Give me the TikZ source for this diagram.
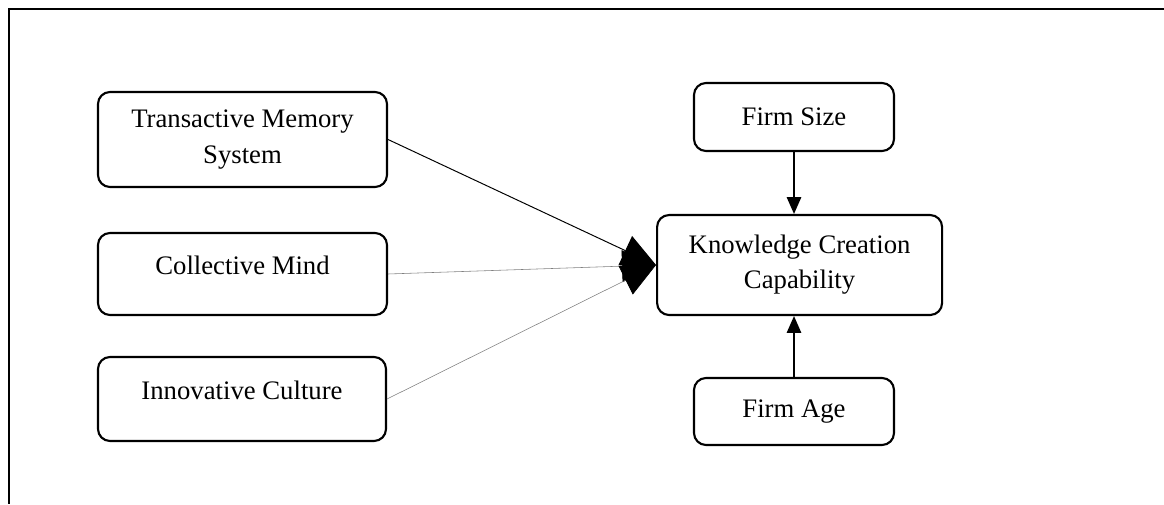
\documentclass[tikz,border=0pt]{standalone}
\usepackage{fontspec}
\setmainfont{Liberation Serif}
\usetikzlibrary{arrows.meta}
\tikzset{box/.style={rectangle,draw,rounded corners=0.3cm,line width=1.5pt,align=center,inner sep=2pt}}
\tikzset{uptext/.style={text depth=0.45cm}}
\tikzset{bigtip/.style={-{Triangle[length=0.85cm,width=0.8cm,color=black]}}}
\tikzset{smalltip/.style={-{Triangle[length=0.42cm,width=0.36cm]}}}

\begin{document}
\begin{tikzpicture}[font=\fontsize{19}{25}\selectfont]
      \useasboundingbox (0,0) rectangle (29.1,12.6);
      \draw[line width=1.5pt] (29.1,12.375) -- (0.225,12.375) -- (0.225,0);
      \node[box,minimum width=7.225cm,minimum height=2.375cm] (tms) at (6.0625,9.1125) {Transactive Memory\\System};
      \node[box,uptext,minimum width=7.225cm,minimum height=2.05cm] (cm) at (6.0625,5.75) {Collective Mind};
      \node[box,uptext,minimum width=7.2cm,minimum height=2.1cm] (ic) at (6.05,2.625) {Innovative Culture};
      \node[box,minimum width=5cm,minimum height=1.7cm] (fsize) at (19.85,9.675) {Firm Size};
      \node[box,minimum width=7.125cm,minimum height=2.5cm] (kcc) at (19.99,5.975) {Knowledge Creation\\Capability};
      \node[box,minimum width=5cm,minimum height=1.675cm] (fage) at (19.85,2.3125) {Firm Age};
        \draw[bigtip,line width=0.7pt] (tms.east) -- (kcc.west);
        \draw[bigtip,draw=gray,line width=0.4pt] (cm.east) -- (kcc.west);
        \draw[bigtip,draw=gray,line width=0.4pt] (ic.east) -- (kcc.west);
        \draw[smalltip,line width=1pt] (fsize.south) -- (fsize.south |- kcc.north);
        \draw[smalltip,line width=1pt] (fage.north) -- (fage.north |- kcc.south);
    \end{tikzpicture}
\end{document}
